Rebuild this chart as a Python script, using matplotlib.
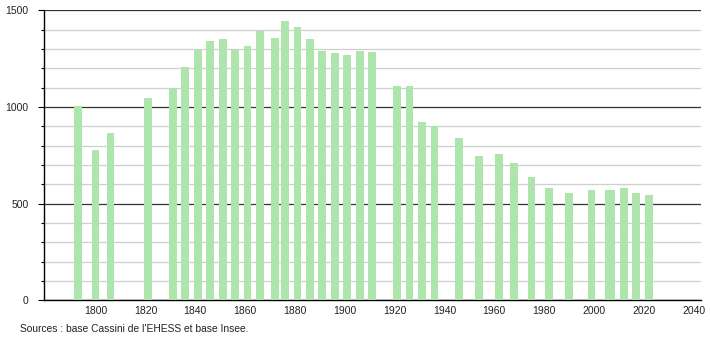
import matplotlib
matplotlib.use("Agg")
import matplotlib.pyplot as plt
from matplotlib.ticker import MultipleLocator

years = [1793, 1800, 1806, 1821, 1831, 1836, 1841, 1846, 1851, 1856,
         1861, 1866, 1872, 1876, 1881, 1886, 1891, 1896, 1901, 1906,
         1911, 1921, 1926, 1931, 1936, 1946, 1954, 1962, 1968, 1975,
         1982, 1990, 1999, 2006, 2007, 2012, 2017, 2022]
population = [1005, 776, 864, 1045, 1099, 1206, 1297, 1340, 1349, 1297,
              1315, 1394, 1356, 1444, 1413, 1349, 1289, 1278, 1268, 1289,
              1284, 1108, 1108, 921, 901, 838, 747, 756, 709, 637,
              583, 554, 569, 569, 569, 580, 554, 543]
xticks = [1800, 1820, 1840, 1860, 1880, 1900, 1920, 1940, 1960, 1980, 2000, 2020, 2040]
yticks = [0, 500, 1000, 1500]
source = "Sources : base Cassini de l'EHESS et base Insee."

plt.rcParams['font.family'] = ['Liberation Sans', 'DejaVu Sans']

fig = plt.figure(figsize=(7.1, 3.4), dpi=100)
ax = fig.add_axes([44/710, 1-300.3/340, (701-44)/710, (300.3-10.3)/340])

ax.bar(years, population, width=3.1, color='#ade5ad', zorder=3, linewidth=0)

ax.set_xlim(1779.3, 2043.0)
ax.set_ylim(0, 1500)

ax.yaxis.set_major_locator(MultipleLocator(500))
ax.yaxis.set_minor_locator(MultipleLocator(100))
ax.set_yticks(yticks)
ax.set_xticks(xticks)
ax.set_xticklabels([str(t) for t in xticks])

ax.grid(axis='y', which='major', color='#333333', linewidth=0.9, zorder=1)
ax.grid(axis='y', which='minor', color='#cfcfcf', linewidth=0.9, zorder=1)
ax.set_axisbelow(True)

for s in ['top', 'right']:
    ax.spines[s].set_visible(False)
ax.spines['left'].set_color('#000000')
ax.spines['bottom'].set_color('#000000')
ax.spines['left'].set_linewidth(1.0)
ax.spines['bottom'].set_linewidth(1.0)

ax.tick_params(axis='y', which='major', length=4, width=0.8, pad=7, labelsize=7.5, labelcolor='#222222')
ax.tick_params(axis='y', which='minor', length=2, width=0.8)
ax.tick_params(axis='x', which='both', length=0, pad=4, labelsize=7.5, labelcolor='#222222')

fig.text(20/710, 1-329.5/340, source, fontsize=7.4, color='#222222', ha='left', va='center')

fig.savefig("out.png", dpi=100)
